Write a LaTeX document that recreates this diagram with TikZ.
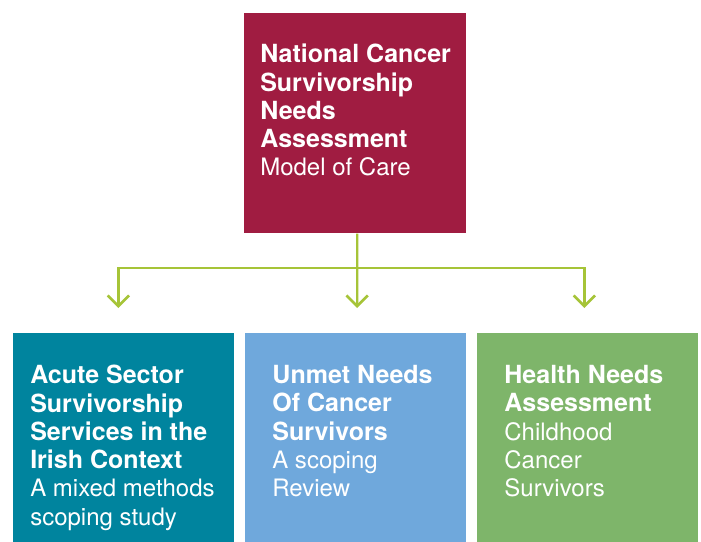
\documentclass[tikz,border=0pt]{standalone}
\usepackage{fontspec}
\setmainfont{TeX Gyre Heros}
\usepackage{xcolor}
\usetikzlibrary{positioning,arrows.meta}
\definecolor{modelred}{HTML}{A01C41}
\definecolor{acuteteal}{HTML}{00849E}
\definecolor{unmetblue}{HTML}{6FA8DC}
\definecolor{healthgreen}{HTML}{7EB56A}
\definecolor{linkgreen}{HTML}{A6C438}
\newcommand{\sub}[1]{{\fontsize{18}{21.2}\selectfont #1}}
\tikzstyle{topblock} = [rectangle, fill=modelred, inner sep=0pt, minimum width=166.5pt, minimum height=165pt]
\tikzstyle{block} = [rectangle, inner sep=0pt, minimum width=165.75pt, minimum height=156.75pt]
\tikzstyle{blocktext} = [text=white, align=left, inner sep=0pt, anchor=north west, font=\fontsize{18.75}{21.2}\selectfont]
\tikzstyle{line} = [draw, linkgreen, line width=1.6pt, shorten >=18.75pt, -{Straight Barb[length=8pt,width=16pt,line width=2pt]}]

\begin{document}
\begin{tikzpicture}[x=0.75pt, y=-0.75pt]
    \useasboundingbox (0,0) rectangle (701,542);
    % Place nodes
    \node [topblock, anchor=north west] (model) at (244,13) {};
    \node [block, fill=acuteteal, anchor=north west] (acute) at (13,333) {};
    \node [block, fill=unmetblue, right=7.9pt of acute] (unmet) {};
    \node [block, fill=healthgreen, right=7.9pt of unmet] (health) {};
    \node [blocktext] (modeltext) at ([shift={(16,31)}]model.north west)
        {\textbf{National Cancer}\\\textbf{Survivorship}\\\textbf{Needs}\\\textbf{Assessment}\\\sub{Model of Care}};
    \node [blocktext] (acutetext) at ([shift={(17,32)}]acute.north west)
        {\textbf{Acute Sector}\\\textbf{Survivorship}\\\textbf{Services in the}\\\textbf{Irish Context}\\\sub{A mixed methods}\\\sub{scoping study}};
    \node [blocktext] (unmettext) at ([shift={(27,32)}]unmet.north west)
        {\textbf{Unmet Needs}\\\textbf{Of Cancer}\\\textbf{Survivors}\\\sub{A scoping}\\\sub{Review}};
    \node [blocktext] (healthtext) at ([shift={(27,32)}]health.north west)
        {\textbf{Health Needs}\\\textbf{Assessment}\\\sub{Childhood}\\\sub{Cancer}\\\sub{Survivors}};
    \coordinate (split) at (357,268);

    % Draw edges
    \path [line] ([xshift=1.5pt]model.south) -- ([xshift=1pt]unmet.north);
    \path [line] (split) -| ([xshift=-4pt]acute.north);
    \path [line] (split) -| ([xshift=-2.6pt]health.north);
\end{tikzpicture}
\end{document}
